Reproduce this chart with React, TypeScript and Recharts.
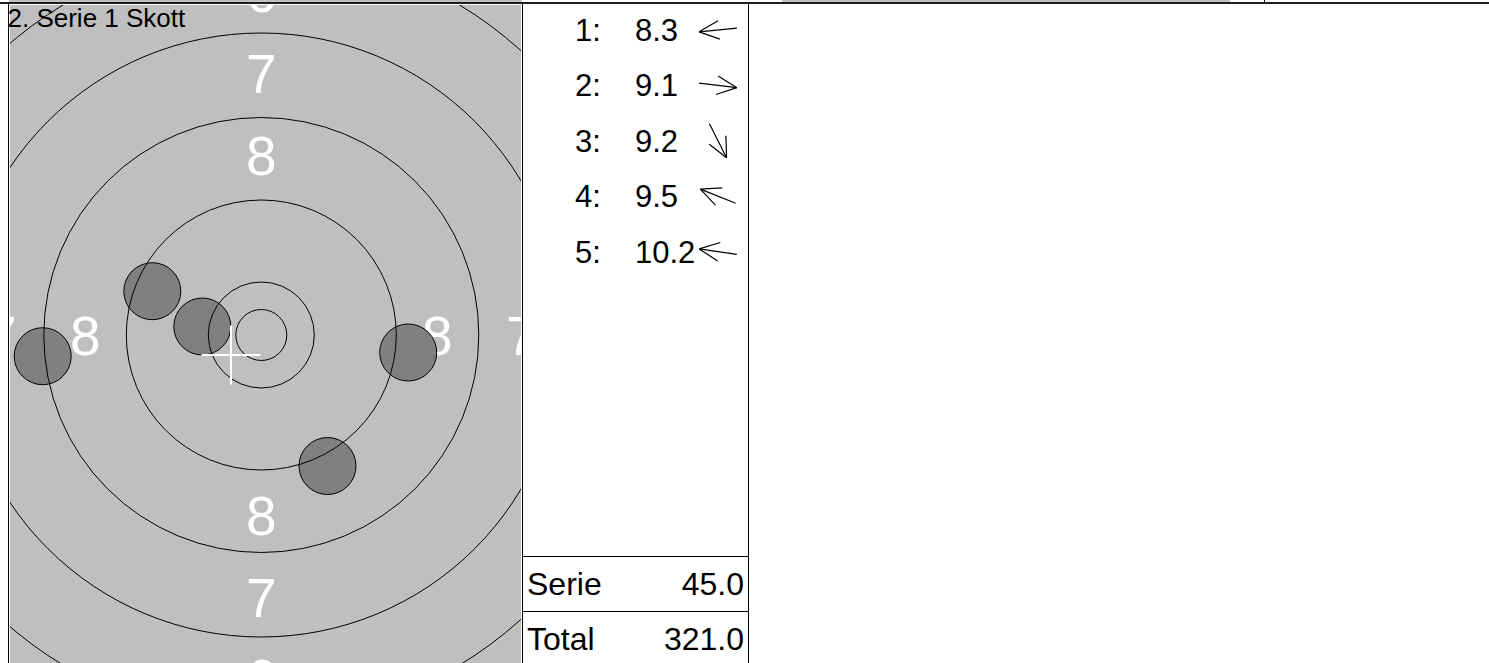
import { ScatterChart, Scatter, XAxis, YAxis } from 'recharts';

// target geometry in mm, centre of the target = (0, 0)
const ringRadii = [2.55, 5.3, 13.5, 21.75, 30.2, 38.5];
const ringNumbers = [
  { x: 0, y: 34.3, t: '6' },
  { x: 0, y: 26.2, t: '7' },
  { x: 0, y: 18.0, t: '8' },
  { x: -26.0, y: 0, t: '7' },
  { x: -17.6, y: 0, t: '8' },
  { x: 17.6, y: 0, t: '8' },
  { x: 26.0, y: 0, t: '7' },
  { x: 0, y: -18.0, t: '8' },
  { x: 0, y: -26.2, t: '7' },
  { x: 0, y: -34.3, t: '6' },
];

// shots of the series
const shotNo = [1, 2, 3, 4, 5];
const shotX = [-21.86, 14.69, 6.62, -10.9, -5.9];
const shotY = [-2.12, -1.75, -13.1, 4.38, 0.85];
const shotScore = ['8.3', '9.1', '9.2', '9.5', '10.2'];
const SHOT_R = 2.85;

// mean point of impact (white cross)
const groupCenter = [{ x: -3.03, y: -2.0 }];
const CROSS_ARM = 2.95;

const title = '2. Serie 1 Skott';
const serieScore = '45.0';
const totalScore = '321.0';

// chart box (page px) and the visible part of the target
const CHART_LEFT = 10;
const CHART_TOP = 5;
const CHART_W = 511;
const CHART_H = 658;
const X_DOMAIN: [number, number] = [-25.13, 25.97];
const Y_DOMAIN: [number, number] = [-32.8, 33.0];
const PX = CHART_W / (X_DOMAIN[1] - X_DOMAIN[0]);

const FONT = '"Liberation Sans", Arial, sans-serif';

const rings = ringRadii.map(r => ({ x: 0, y: 0, r }));
const shots = shotNo.map((n, i) => ({ n, x: shotX[i], y: shotY[i] }));

function Arrow({ cx, cy, dx, dy }: { cx: number; cy: number; dx: number; dy: number }) {
  const a = Math.atan2(-dy, dx);
  const half = 19;
  const tipX = cx + half * Math.cos(a);
  const tipY = cy + half * Math.sin(a);
  const head = 22;
  const spread = (25 * Math.PI) / 180;
  return (
    <g stroke="#000" strokeWidth={1.2} fill="none">
      <line x1={cx - half * Math.cos(a)} y1={cy - half * Math.sin(a)} x2={tipX} y2={tipY} />
      <line x1={tipX} y1={tipY} x2={tipX - head * Math.cos(a + spread)} y2={tipY - head * Math.sin(a + spread)} />
      <line x1={tipX} y1={tipY} x2={tipX - head * Math.cos(a - spread)} y2={tipY - head * Math.sin(a - spread)} />
    </g>
  );
}

export default function App() {
  return (
    <div style={{ position: 'absolute', left: 0, top: 0, width: 1489, height: 663, background: '#fff', overflow: 'hidden' }}>
      <div style={{ position: 'absolute', left: CHART_LEFT, top: CHART_TOP, width: CHART_W, height: CHART_H, background: '#bfbfbf' }}>
        <ScatterChart width={CHART_W} height={CHART_H} margin={{ top: 0, right: 0, bottom: 0, left: 0 }}>
          <XAxis type="number" dataKey="x" domain={X_DOMAIN} allowDataOverflow hide />
          <YAxis type="number" dataKey="y" domain={Y_DOMAIN} allowDataOverflow hide />
          <Scatter
            data={ringNumbers}
            isAnimationActive={false}
            shape={(p: any) => (
              <text x={p.cx} y={p.cy + 20} textAnchor="middle" fontSize={55} fill="#fff" fontFamily={FONT}>
                {p.payload.t}
              </text>
            )}
          />
          <Scatter
            data={shots}
            isAnimationActive={false}
            shape={(p: any) => <circle cx={p.cx} cy={p.cy} r={SHOT_R * PX} fill="#808080" stroke="#000" strokeWidth={1} />}
          />
          <Scatter
            data={rings}
            isAnimationActive={false}
            shape={(p: any) => <circle cx={p.cx} cy={p.cy} r={p.payload.r * PX} fill="none" stroke="#000" strokeWidth={1} />}
          />
          <Scatter
            data={groupCenter}
            isAnimationActive={false}
            shape={(p: any) => (
              <g stroke="#fff" strokeWidth={2}>
                <line x1={p.cx - CROSS_ARM * PX} y1={p.cy} x2={p.cx + CROSS_ARM * PX} y2={p.cy} />
                <line x1={p.cx} y1={p.cy - CROSS_ARM * PX} x2={p.cx} y2={p.cy + CROSS_ARM * PX} />
              </g>
            )}
          />
        </ScatterChart>
      </div>

      <svg width={1489} height={663} style={{ position: 'absolute', left: 0, top: 0 }} fontFamily={FONT}>
        {/* leftovers of the panel above */}
        <rect x={9} y={0} width={513} height={2} fill="#bfbfbf" />
        <rect x={782} y={0} width={448} height={2} fill="#c0c0c0" />
        <rect x={0} y={2} width={1489} height={2} fill="#1e1e1e" />
        <line x1={1264.5} y1={0} x2={1264.5} y2={3} stroke="#000" />

        {/* frames */}
        <line x1={8.5} y1={2} x2={8.5} y2={663} stroke="#000" />
        <line x1={522.5} y1={2} x2={522.5} y2={663} stroke="#000" />
        <line x1={748.5} y1={2} x2={748.5} y2={663} stroke="#000" />
        <line x1={522} y1={556.5} x2={749} y2={556.5} stroke="#000" />
        <line x1={522} y1={611.5} x2={749} y2={611.5} stroke="#000" />

        <text x={7.5} y={27} fontSize={26} fill="#000">{title}</text>

        {shots.map((s, i) => {
          const base = 41 + i * 55.4;
          return (
            <g key={s.n}>
              <text x={575} y={base} fontSize={31} fill="#000">{s.n}:</text>
              <text x={635} y={base} fontSize={31} fill="#000">{shotScore[i]}</text>
              <Arrow cx={718} cy={base - 11} dx={s.x} dy={s.y} />
            </g>
          );
        })}

        <text x={527} y={595} fontSize={32} fill="#000">Serie</text>
        <text x={744} y={595} fontSize={32} fill="#000" textAnchor="end">{serieScore}</text>
        <text x={527} y={650} fontSize={32} fill="#000">Total</text>
        <text x={744} y={650} fontSize={32} fill="#000" textAnchor="end">{totalScore}</text>
      </svg>
    </div>
  );
}
